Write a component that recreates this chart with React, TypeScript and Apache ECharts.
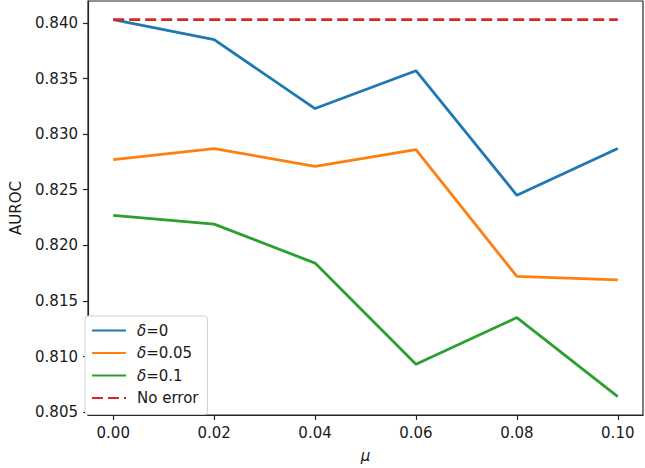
import React, { useEffect, useRef } from "react";
import * as echarts from "echarts";

const muValues = [0.0, 0.02, 0.04, 0.06, 0.08, 0.1];
const delta0 = [0.8403, 0.8385, 0.8323, 0.8357, 0.8245, 0.8287];
const delta005 = [0.8277, 0.8287, 0.8271, 0.8286, 0.8172, 0.8169];
const delta01 = [0.8227, 0.8219, 0.8184, 0.8093, 0.8135, 0.8064];
const noError = [0.8403, 0.8403, 0.8403, 0.8403, 0.8403, 0.8403];
const xTicks = [0.0, 0.02, 0.04, 0.06, 0.08, 0.1];
const yTicks = [0.805, 0.81, 0.815, 0.82, 0.825, 0.83, 0.835, 0.84];
const seriesNames = ["δ=0", "δ=0.05", "δ=0.1", "No error"];
const colors = ["#1f77b4", "#ff7f0e", "#2ca02c", "#d62728"];

const FONT = "DejaVu Sans";

export default function App() {
  const ref = useRef<HTMLDivElement>(null);
  useEffect(() => {
    if (!ref.current) return;
    const chart = echarts.init(ref.current, undefined, { renderer: "svg" });
    const pair = (ys: number[]) => muValues.map((m, i) => [m, ys[i]]);
    const allData = [delta0, delta005, delta01, noError];
    chart.setOption({
      animation: false,
      backgroundColor: "#ffffff",
      grid: {
        left: 78,
        right: 2,
        top: 1,
        bottom: 45,
        show: true,
        borderColor: "#262626",
        borderWidth: 1.2,
        backgroundColor: "transparent",
      },
      legend: {
        orient: "vertical",
        left: 85,
        top: 316,
        data: seriesNames,
        itemWidth: 34,
        itemHeight: 12,
        itemGap: 7.5,
        padding: [7, 9, 9, 6],
        backgroundColor: "#ffffff",
        borderColor: "#d0d0d0",
        borderWidth: 1,
        borderRadius: 3,
        itemStyle: { opacity: 0, borderWidth: 0 },
        textStyle: {
          fontFamily: FONT,
          fontSize: 15,
          color: "#1a1a1a",
          padding: [0, 0, 0, 6],
          rich: {
            i: { fontFamily: FONT, fontSize: 15, fontStyle: "italic", color: "#1a1a1a" },
          },
        },
        formatter: (name: string) => {
          if (name.startsWith("δ")) return "{i|δ}" + name.slice(1);
          return name;
        },
      },
      xAxis: {
        type: "value",
        min: -0.005,
        max: 0.105,
        name: "μ",
        nameLocation: "middle",
        nameGap: 33,
        nameTextStyle: { fontFamily: FONT, fontSize: 15, fontStyle: "italic", color: "#1a1a1a" },
        splitLine: { show: false },
        axisLine: { show: true, onZero: false, lineStyle: { color: "#262626", width: 1.2 } },
        axisTick: { show: true, length: 5, lineStyle: { color: "#262626", width: 1.2 }, customValues: xTicks },
        axisLabel: {
          fontFamily: FONT,
          fontSize: 15,
          color: "#1a1a1a",
          margin: 10,
          customValues: xTicks,
          formatter: (v: number) => v.toFixed(2),
        },
      },
      yAxis: {
        type: "value",
        min: 0.80474,
        max: 0.84197,
        name: "AUROC",
        nameLocation: "middle",
        nameGap: 65,
        nameRotate: 90,
        nameTextStyle: { fontFamily: FONT, fontSize: 15, color: "#1a1a1a" },
        splitLine: { show: false },
        axisLine: { show: true, onZero: false, lineStyle: { color: "#262626", width: 1.2 } },
        axisTick: { show: true, length: 5, lineStyle: { color: "#262626", width: 1.2 }, customValues: yTicks },
        axisLabel: {
          fontFamily: FONT,
          fontSize: 15,
          color: "#1a1a1a",
          margin: 10,
          customValues: yTicks,
          formatter: (v: number) => v.toFixed(3),
        },
      },
      series: seriesNames.map((name, i) => ({
        name,
        type: "line",
        data: pair(allData[i]),
        symbol: "none",
        z: i === 3 ? 5 : 2 + i,
        color: colors[i],
        lineStyle: {
          color: colors[i],
          width: 2.8,
          type: i === 3 ? [11, 5] : "solid",
          cap: "butt",
        },
      })),
    });
    return () => chart.dispose();
  }, []);
  return <div ref={ref} style={{ width: 645, height: 468, position: "absolute", left: 0, top: 0 }} />;
}
